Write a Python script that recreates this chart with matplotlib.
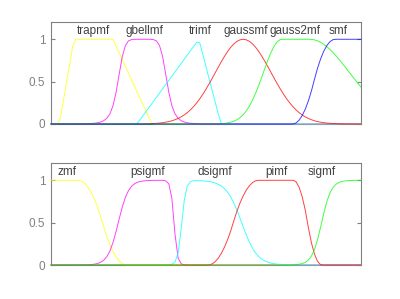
import numpy as np
import matplotlib
matplotlib.use('Agg')
import matplotlib.pyplot as plt

plt.rcParams['font.family'] = ['Liberation Sans', 'DejaVu Sans']

# parameters (x axis runs 0..10)
x = np.arange(0, 10.001, 0.1)

trap_p = [0.27, 0.74, 2.0, 3.25]
gbell_p = [0.79, 3.5, 2.95]
tri_p = [2.77, 4.77, 5.48]
gauss_p = [0.9, 6.2]
gauss2_p = [0.59, 7.44, 1.28, 8.35]
s_p = [7.8, 9.16]

z_p = [0.88, 2.44]
psig_p = [6.0, 2.17, -18.5, 3.97]
dsig_p = [15.0, 4.22, 4.0, 6.15]
pi_p = [5.07, 6.69, 7.82, 8.73]
sig_p = [6.5, 8.73]

top_names = ['trapmf', 'gbellmf', 'trimf', 'gaussmf', 'gauss2mf', 'smf']
top_label_x = [1.38, 3.03, 4.8, 6.29, 7.87, 9.26]
bot_names = ['zmf', 'psigmf', 'dsigmf', 'pimf', 'sigmf']
bot_label_x = [0.52, 3.13, 5.29, 7.26, 8.74]

colors = ['#ffff00', '#ff00ff', '#00ffff', '#ff0000', '#00ff00', '#0000ff']


def trapmf(x, p):
    a, b, c, d = p
    return np.clip(np.minimum(np.minimum((x - a) / (b - a), 1), (d - x) / (d - c)), 0, 1)


def gbellmf(x, p):
    a, b, c = p
    return 1 / (1 + np.abs((x - c) / a) ** (2 * b))


def trimf(x, p):
    a, b, c = p
    return np.clip(np.minimum((x - a) / (b - a), (c - x) / (c - b)), 0, 1)


def gaussmf(x, p):
    s, c = p
    return np.exp(-(x - c) ** 2 / (2 * s ** 2))


def gauss2mf(x, p):
    s1, c1, s2, c2 = p
    y = np.ones_like(x)
    y[x < c1] = gaussmf(x[x < c1], [s1, c1])
    y[x > c2] = gaussmf(x[x > c2], [s2, c2])
    return y


def smf(x, p):
    a, b = p
    m = (a + b) / 2
    y = np.zeros_like(x)
    i = (x > a) & (x <= m)
    y[i] = 2 * ((x[i] - a) / (b - a)) ** 2
    i = (x > m) & (x < b)
    y[i] = 1 - 2 * ((x[i] - b) / (b - a)) ** 2
    y[x >= b] = 1
    return y


def zmf(x, p):
    return 1 - smf(x, p)


def sigmf(x, p):
    a, c = p
    return 1 / (1 + np.exp(-a * (x - c)))


def psigmf(x, p):
    return sigmf(x, p[:2]) * sigmf(x, p[2:])


def dsigmf(x, p):
    return np.abs(sigmf(x, p[:2]) - sigmf(x, p[2:]))


def pimf(x, p):
    return smf(x, p[:2]) * zmf(x, p[2:])


def style(ax):
    ax.set_xlim(0, 10)
    ax.set_ylim(0, 1.2)
    ax.set_xticks([])
    ax.set_yticks([0, 0.5, 1])
    ax.set_yticklabels(['0', '0.5', '1'])
    ax.tick_params(axis='y', direction='in', right=True, length=3,
                   color='#808080', labelcolor='#808080', labelsize=8.5, pad=4)
    for s in ax.spines.values():
        s.set_color('#808080')
        s.set_linewidth(0.8)


fig = plt.figure(figsize=(4, 2.99), dpi=100)
ax1 = fig.add_axes([0.1275, 0.5853, 0.775, 0.340])
ax2 = fig.add_axes([0.1275, 0.1137, 0.775, 0.340])

top = [trapmf(x, trap_p), gbellmf(x, gbell_p), trimf(x, tri_p),
       gaussmf(x, gauss_p), gauss2mf(x, gauss2_p), smf(x, s_p)]
bot = [zmf(x, z_p), psigmf(x, psig_p), dsigmf(x, dsig_p),
       pimf(x, pi_p), sigmf(x, sig_p)]

for y, c in zip(top, colors):
    ax1.plot(x, y, color=c, lw=0.7, alpha=0.75, zorder=3, clip_on=False)
for y, c in zip(bot, colors):
    ax2.plot(x, y, color=c, lw=0.7, alpha=0.75, zorder=3, clip_on=False)

for name, lx in zip(top_names, top_label_x):
    ax1.text(lx, 1.1, name, ha='center', va='center', fontsize=8.5, color='#404040')
for name, lx in zip(bot_names, bot_label_x):
    ax2.text(lx, 1.1, name, ha='center', va='center', fontsize=8.5, color='#404040')

style(ax1)
style(ax2)

fig.savefig('out.png', dpi=100)
